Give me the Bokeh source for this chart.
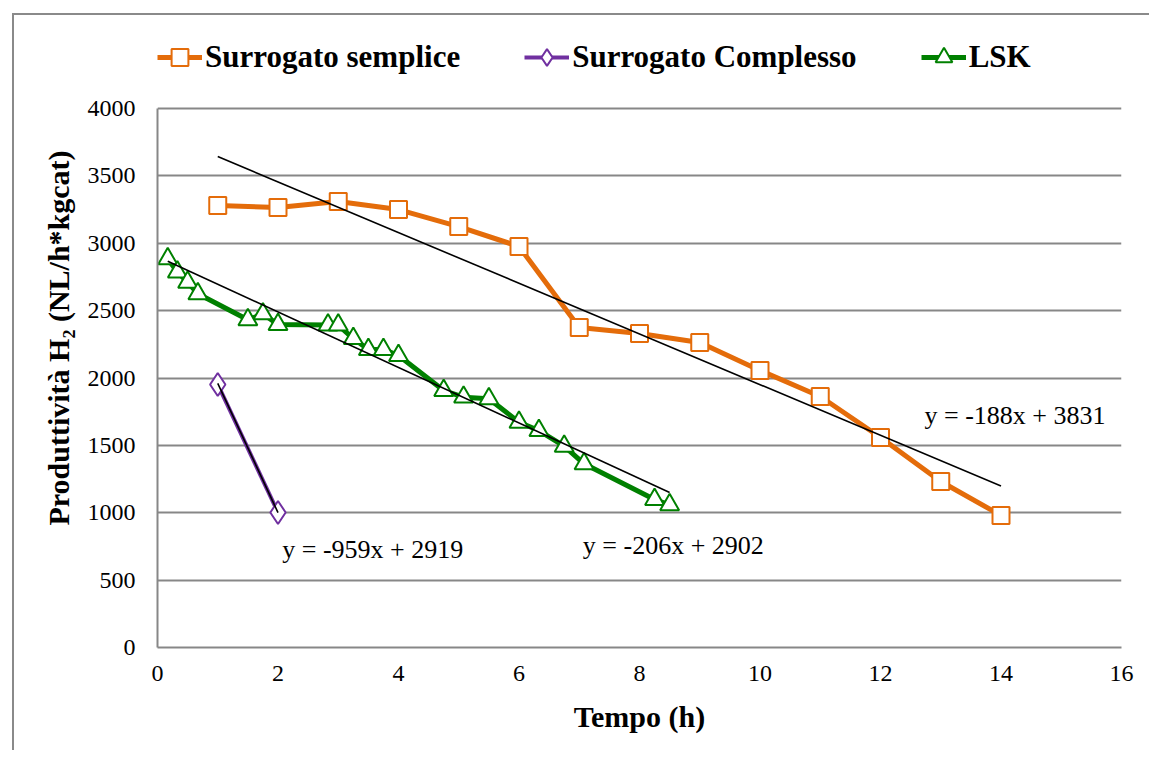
from bokeh.plotting import figure
from bokeh.models import Legend, LegendItem, Label, Range1d, FixedTicker
from bokeh.embed import file_html
from bokeh.resources import INLINE

# ---- data ----
semplice_x = [1, 2, 3, 4, 5, 6, 7, 8, 9, 10, 11, 12, 13, 14]
semplice_y = [3280, 3265, 3310, 3250, 3124, 2976, 2375, 2330, 2263, 2056, 1863, 1558, 1232, 980]

complesso_x = [1, 2]
complesso_y = [1952, 1002]

lsk_x = [0.17, 0.33, 0.5, 0.67, 1.5, 1.75, 2.0, 2.83, 3.0, 3.25, 3.5, 3.75, 4.0,
         4.75, 5.08, 5.5, 6.0, 6.33, 6.75, 7.08, 8.25, 8.5]
lsk_y = [2885, 2786, 2711, 2625, 2432, 2476, 2397, 2393, 2393, 2293, 2212, 2212, 2167,
         1907, 1858, 1846, 1672, 1610, 1494, 1363, 1098, 1059]

# trend line coefficients (slope, intercept) as printed on the chart
trend_semplice = (-188, 3831)
trend_complesso = (-959, 2919)
trend_lsk = (-206, 2902)

x_ticks = [0, 2, 4, 6, 8, 10, 12, 14, 16]
y_ticks = [0, 500, 1000, 1500, 2000, 2500, 3000, 3500, 4000]

ORANGE = "#E46C0A"
PURPLE = "#7030A0"
GREEN = "#008000"
GRID = "#878787"
FONT = "Liberation Serif"

# plot area for 0..4000 is 539 px tall; 80 px more on top hold the legend
Y_MAX = 4000
EXTRA_PX = 80
PLOT_PX = 539
y_top = Y_MAX + EXTRA_PX / PLOT_PX * Y_MAX

p = figure(frame_width=964, frame_height=PLOT_PX + EXTRA_PX,
           x_range=Range1d(0, 16), y_range=Range1d(0, y_top),
           output_backend="svg", toolbar_location=None,
           min_border_left=143, min_border_right=28,
           min_border_top=13, min_border_bottom=103)
# outer chart border (only its top and left edges fall inside the picture)
p.styles = {"border-left": "2px solid #8a8a8a", "border-top": "2px solid #8a8a8a",
            "margin-left": "12px", "margin-top": "13px"}
p.outline_line_color = None
p.background_fill_color = "white"
p.border_fill_color = "white"

# series
l1 = p.line(semplice_x, semplice_y, line_color=ORANGE, line_width=5)
s1 = p.scatter(semplice_x, semplice_y, marker="square", size=17, fill_color="white",
               line_color=ORANGE, line_width=2)
l2 = p.line(complesso_x, complesso_y, line_color=PURPLE, line_width=4)
s2 = p.scatter(complesso_x, complesso_y, marker="diamond", size=23, fill_color="white",
               line_color=PURPLE, line_width=2)
l3 = p.line(lsk_x, lsk_y, line_color=GREEN, line_width=5)
s3 = p.scatter(lsk_x, lsk_y, marker="triangle", size=19, fill_color="white",
               line_color=GREEN, line_width=2)

# trend lines
for xs, (m, q) in ((semplice_x, trend_semplice), (complesso_x, trend_complesso), (lsk_x, trend_lsk)):
    x0, x1 = min(xs), max(xs)
    p.line([x0, x1], [m * x0 + q, m * x1 + q], line_color="black", line_width=1.6)

# equation labels
for x, y, t in ((12.73, 1722, "y = -188x + 3831"),
                (2.07, 727, "y = -959x + 2919"),
                (7.06, 757, "y = -206x + 2902")):
    p.add_layout(Label(x=x, y=y, text=t, text_font=FONT, text_font_size="26px",
                       text_baseline="middle", text_color="black"))

# axes
for ax in (p.xaxis[0], p.yaxis[0]):
    ax.axis_line_color = GRID
    ax.axis_line_width = 2
    ax.major_tick_line_color = None
    ax.minor_tick_line_color = None
    ax.major_label_text_font = FONT
    ax.major_label_text_font_size = "24px"
    ax.major_label_text_color = "black"
    ax.axis_label_text_font = FONT
    ax.axis_label_text_font_size = "30px"
    ax.axis_label_text_font_style = "bold"
    ax.axis_label_text_color = "black"

p.xaxis.ticker = FixedTicker(ticks=x_ticks)
p.yaxis.ticker = FixedTicker(ticks=y_ticks)
p.yaxis.bounds = (0, Y_MAX)
p.xaxis.axis_label = "Tempo (h)"
p.yaxis.axis_label = "Produttività H₂ (NL/h*kgcat)"
p.xaxis.major_label_standoff = 12
p.yaxis.major_label_standoff = 16
p.xaxis.axis_label_standoff = 16
p.yaxis.axis_label_standoff = 10

p.xgrid.visible = False
p.ygrid.grid_line_color = GRID
p.ygrid.grid_line_width = 2

legend = Legend(items=[LegendItem(label="Surrogato semplice", renderers=[l1, s1]),
                       LegendItem(label="Surrogato Complesso", renderers=[l2, s2]),
                       LegendItem(label="LSK", renderers=[l3, s3])],
                orientation="horizontal", location=(0, PLOT_PX + 30),
                glyph_width=45, glyph_height=42, label_standoff=3, spacing=64,
                padding=0, margin=0, border_line_color=None, background_fill_alpha=0,
                label_text_font=FONT, label_text_font_style="bold",
                label_text_font_size="31px", label_text_color="black")
p.add_layout(legend, "center")

open("out.html", "w").write(file_html(p, INLINE))
